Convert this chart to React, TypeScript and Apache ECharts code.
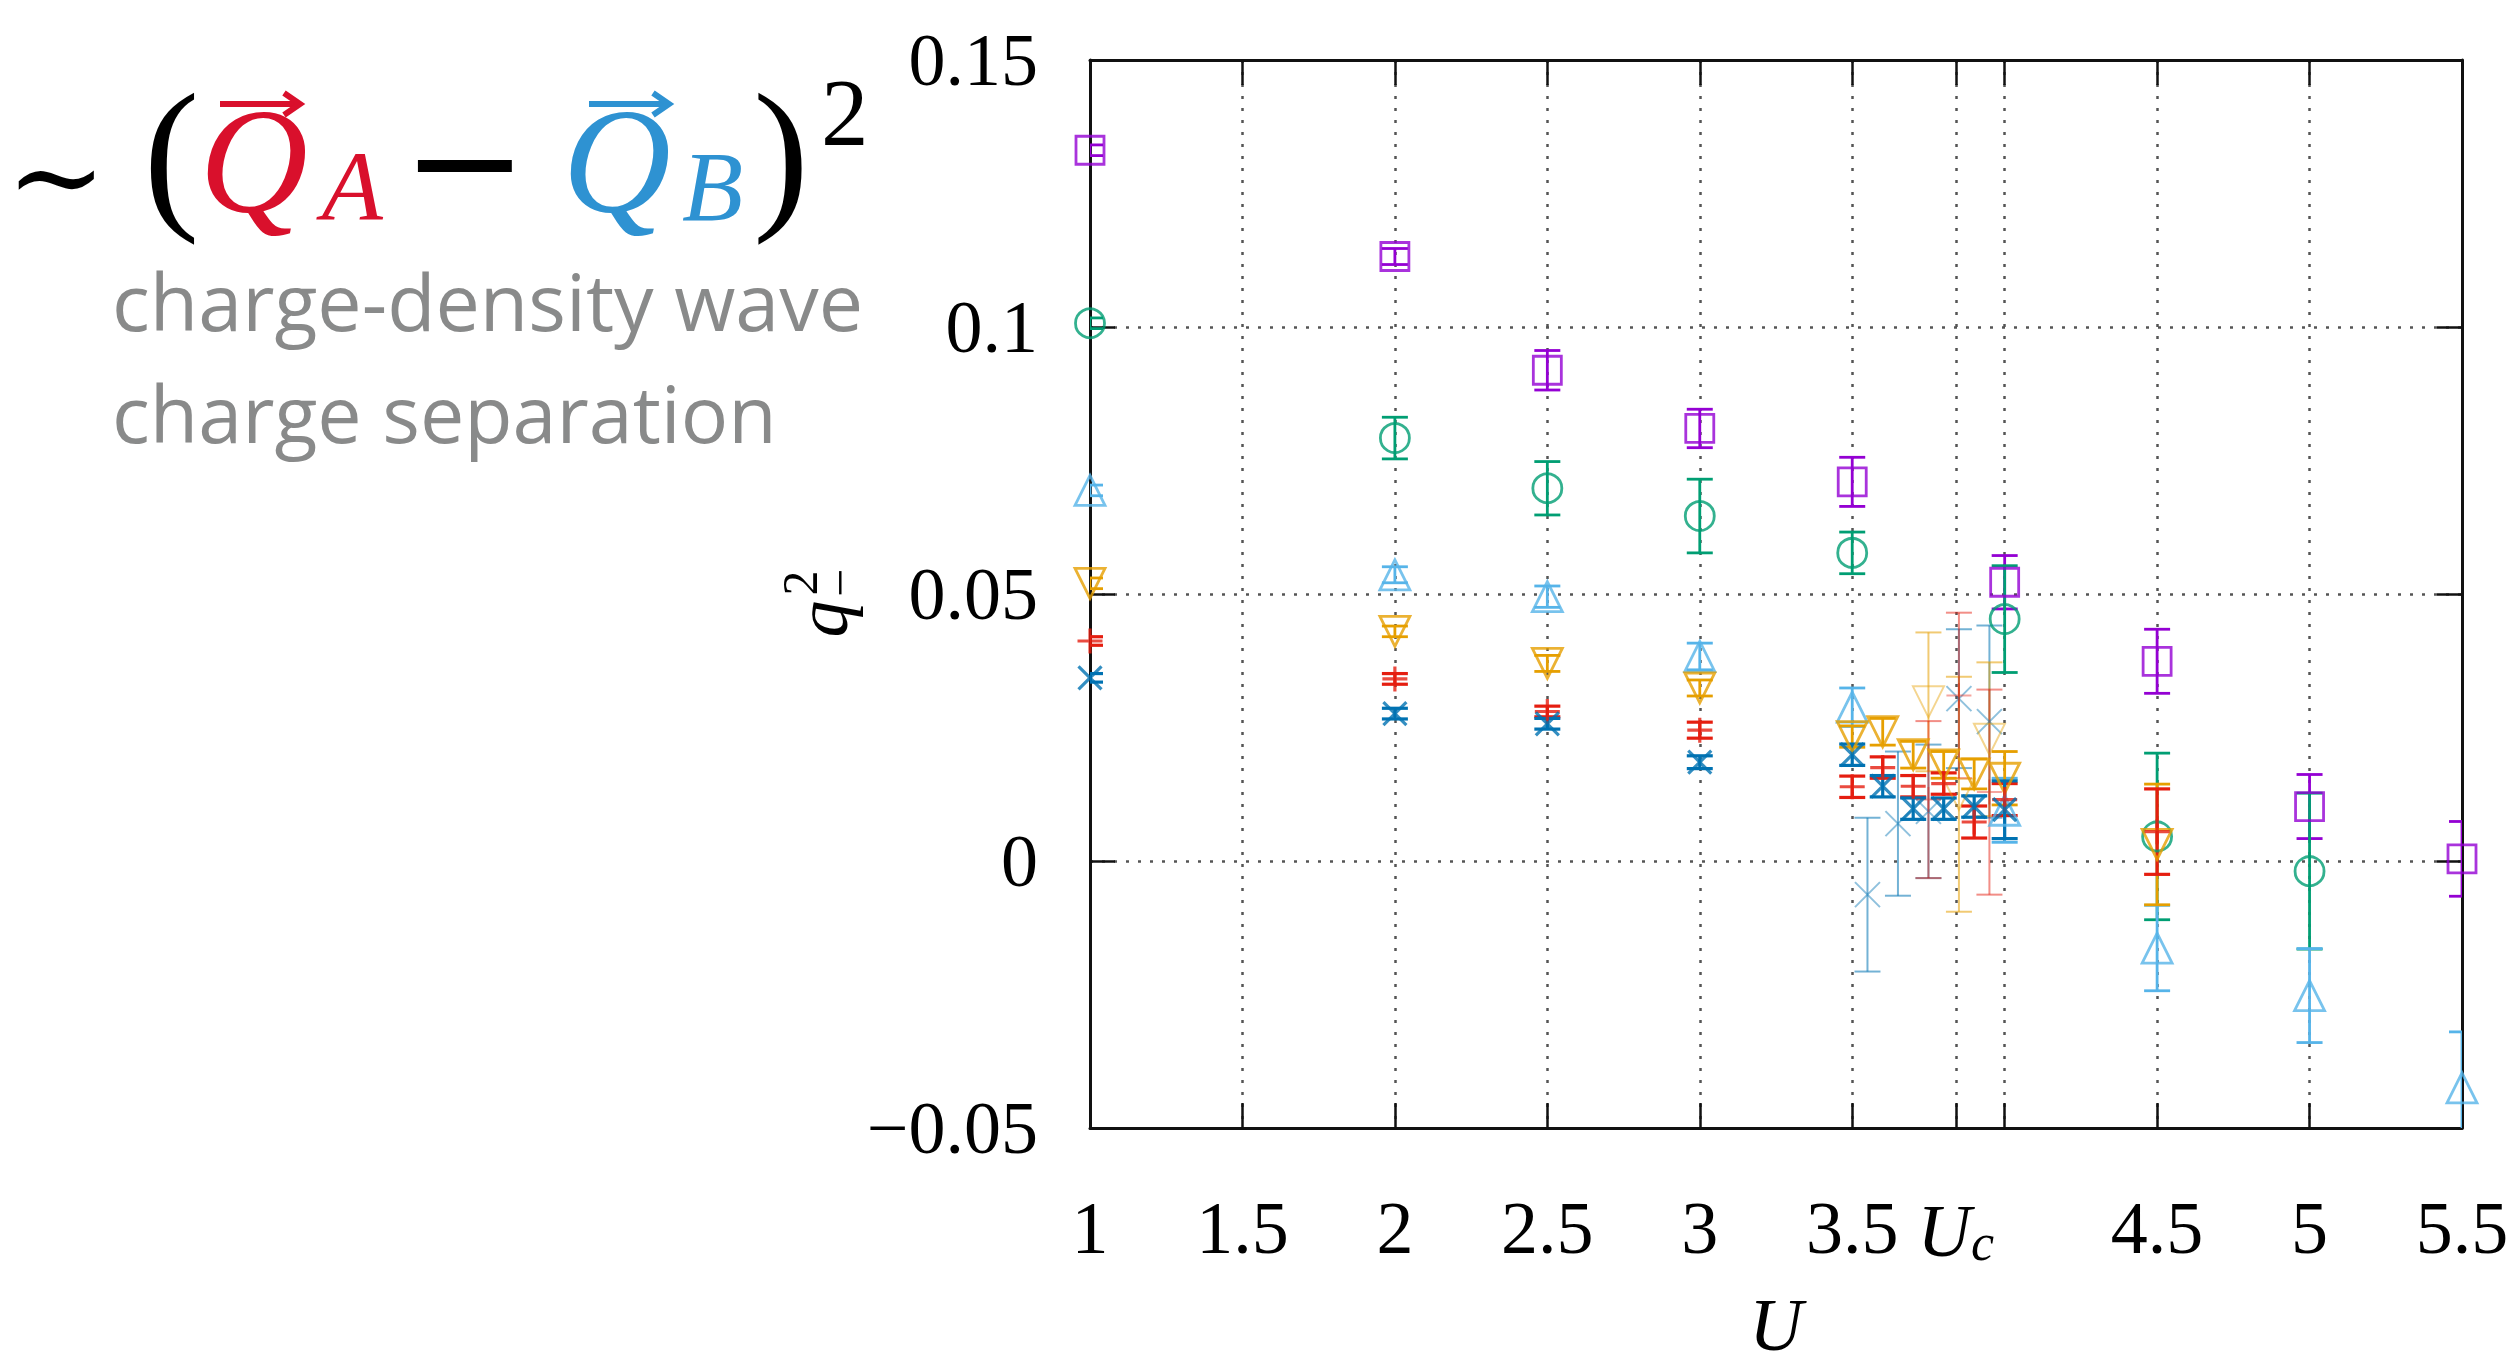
import React, { useEffect, useRef } from 'react';
import * as echarts from 'echarts';

// ---------- axis ticks / labels ----------
const U_C = 3.84;
const X_TICKS = [1, 1.5, 2, 2.5, 3, 3.5, U_C, 4, 4.5, 5, 5.5];
const X_LABEL_VALUES = [1, 1.5, 2, 2.5, 3, 3.5, U_C, 4.5, 5, 5.5];
const X_LABELS = ['1', '1.5', '2', '2.5', '3', '3.5', '{u|U}{c|c}', '4.5', '5', '5.5'];
const Y_LABEL_VALUES = [-0.05, 0, 0.05, 0.1, 0.15];
const Y_LABELS = ['\u22120.05', '0', '0.05', '0.1', '0.15'];

// ---------- data (U, q^2_-, error) ----------
const purpleU = [1, 2, 2.5, 3, 3.5, 4, 4.5, 5, 5.5];
const purpleQ = [0.1331, 0.1132, 0.0919, 0.081, 0.071, 0.0522, 0.0374, 0.0102, 0.0004];
const purpleE = [0.001, 0.0015, 0.0037, 0.0036, 0.0046, 0.005, 0.006, 0.006, 0.007];

const greenU = [1, 2, 2.5, 3, 3.5, 4, 4.5, 5];
const greenQ = [0.1007, 0.0792, 0.0698, 0.0646, 0.0577, 0.0453, 0.0046, -0.0019];
const greenE = [0.001, 0.0039, 0.005, 0.0069, 0.0039, 0.01, 0.0156, 0.0146];

const skyU = [1, 2, 2.5, 3, 3.5, 4, 4.5, 5, 5.5];
const skyQ = [0.0694, 0.0536, 0.0495, 0.0383, 0.0288, 0.0095, -0.0163, -0.0252, -0.0425];
const skyE = [0.001, 0.0015, 0.002, 0.0025, 0.0036, 0.006, 0.008, 0.0088, 0.0105];

const orangeU = [1, 2, 2.5, 3, 3.5, 3.6, 3.7, 3.8, 3.9, 4, 4.5];
const orangeQ = [0.052, 0.043, 0.037, 0.0324, 0.0233, 0.0242, 0.0199, 0.018, 0.0163, 0.0155, 0.0031];
const orangeE = [0.001, 0.001, 0.0015, 0.0015, 0.002, 0.0025, 0.0025, 0.0025, 0.0028, 0.005, 0.0113];

const redU = [1, 2, 2.5, 3, 3.5, 3.6, 3.7, 3.8, 3.9, 4, 4.5];
const redQ = [0.0412, 0.0341, 0.028, 0.0245, 0.0139, 0.0175, 0.014, 0.0145, 0.0073, 0.0115, 0.0055];
const redE = [0.0008, 0.001, 0.001, 0.0015, 0.002, 0.002, 0.002, 0.002, 0.003, 0.003, 0.008];

const blueU = [1, 2, 2.5, 3, 3.5, 3.6, 3.7, 3.8, 3.9, 4];
const blueQ = [0.0343, 0.0276, 0.0257, 0.0185, 0.0199, 0.014, 0.0098, 0.0098, 0.0102, 0.0096];
const blueE = [0.0008, 0.001, 0.001, 0.0012, 0.002, 0.002, 0.002, 0.002, 0.002, 0.0054];

// faded (second data set near the transition)
const fBlueU = [3.55, 3.65, 3.75, 3.85, 3.95];
const fBlueQ = [-0.0063, 0.007, 0.0093, 0.0304, 0.0261];
const fBlueE = [0.0144, 0.0135, 0.0125, 0.013, 0.018];

const fOrangeU = [3.75, 3.85, 3.95];
const fOrangeQ = [0.0298, 0.0125, 0.0228];
const fOrangeE = [0.013, 0.022, 0.0144];

const fRedU = [3.75, 3.85, 3.95];
const fRedQ = [0.0115, 0.031, 0.0129];
const fRedE = [0.0147, 0.0155, 0.0192];

const PLUS = 'path://M0,10L20,10M10,0L10,20';
const CROSS = 'path://M0,0L20,20M20,0L0,20';

type S = { u: number[]; q: number[]; e: number[]; color: string; symbol: string; size: number; rotate?: number; width: number };

const SETS: S[] = [
  { u: fBlueU, q: fBlueQ, e: fBlueE, color: 'rgba(0,114,178,0.55)', symbol: CROSS, size: 25, width: 2 },
  { u: fOrangeU, q: fOrangeQ, e: fOrangeE, color: 'rgba(230,159,0,0.55)', symbol: 'triangle', size: 31, rotate: 180, width: 2 },
  { u: fRedU, q: fRedQ, e: fRedE, color: 'rgba(229,30,16,0.5)', symbol: PLUS, size: 25, width: 2 },
  { u: purpleU, q: purpleQ, e: purpleE, color: '#9400d3', symbol: 'rect', size: 28, width: 2.8 },
  { u: greenU, q: greenQ, e: greenE, color: '#009e73', symbol: 'circle', size: 29, width: 2.8 },
  { u: skyU, q: skyQ, e: skyE, color: '#56b4e9', symbol: 'triangle', size: 30, width: 2.8 },
  { u: orangeU, q: orangeQ, e: orangeE, color: '#e69f00', symbol: 'triangle', size: 30, rotate: 180, width: 2.8 },
  { u: redU, q: redQ, e: redE, color: '#e51e10', symbol: PLUS, size: 25, width: 3.2 },
  { u: blueU, q: blueQ, e: blueE, color: '#0072b2', symbol: CROSS, size: 23, width: 3.2 },
];

const SERIF = 'Liberation Serif';
const CAP = 26;

function pick(values: number[], labels: string[], v: number) {
  const i = values.findIndex((t) => Math.abs(t - v) < 1e-6);
  return i >= 0 ? labels[i] : '';
}

function buildSeries() {
  const out: any[] = [];
  SETS.forEach((s) => {
    const data = s.u.map((u, i) => [u, s.q[i], s.e[i]]);
    out.push({
      type: 'custom',
      xAxisIndex: 0,
      yAxisIndex: 0,
      clip: true,
      encode: { x: 0, y: 1 },
      data,
      silent: true,
      renderItem: (params: any, api: any) => {
        const x = api.value(0);
        const y = api.value(1);
        const e = api.value(2);
        const top = api.coord([x, y + e]);
        const bot = api.coord([x, y - e]);
        const st = { stroke: s.color, lineWidth: s.width };
        const h = CAP / 2;
        return {
          type: 'group',
          children: [
            { type: 'line', shape: { x1: top[0], y1: top[1], x2: bot[0], y2: bot[1] }, style: st },
            { type: 'line', shape: { x1: top[0] - h, y1: top[1], x2: top[0] + h, y2: top[1] }, style: st },
            { type: 'line', shape: { x1: bot[0] - h, y1: bot[1], x2: bot[0] + h, y2: bot[1] }, style: st },
          ],
        };
      },
    });
    out.push({
      type: 'scatter',
      xAxisIndex: 0,
      yAxisIndex: 0,
      clip: false,
      data: data.map((d) => [d[0], d[1]]),
      symbol: s.symbol,
      symbolSize: s.size,
      symbolRotate: s.rotate || 0,
      itemStyle: { color: 'rgba(0,0,0,0)', borderColor: s.color, borderWidth: s.width },
      silent: true,
    });
  });
  return out;
}

const RED = '#d9102c';
const BLUE = '#2e92d2';
const GRAY = '#898a8a';

function arrow(x1: number, x2: number, y: number, color: string) {
  return [
    { type: 'line', shape: { x1, y1: y, x2: x2 - 4, y2: y }, style: { stroke: color, lineWidth: 6 } },
    { type: 'polyline', shape: { points: [[x2 - 16, y - 11], [x2, y], [x2 - 16, y + 11]] }, style: { stroke: color, lineWidth: 6, fill: 'none' } },
  ];
}

const tok = (size: number, lh: number, fill: string, family: string, italic: boolean, padL: number, padB = 0) => ({
  fontSize: size,
  lineHeight: lh,
  fontFamily: family,
  fontStyle: italic ? 'italic' : 'normal',
  fill,
  color: fill,
  verticalAlign: 'bottom',
  padding: [0, 0, padB, padL],
});

const formula = {
  type: 'text',
  x: 6,
  y: 236,
  style: {
    text: '{t|\u223C}{p|(}{qa|Q}{sa|A}{m|\u2212}{qb|Q}{sb|B}{p2|)}{sup|2}',
    align: 'left',
    textAlign: 'left',
    verticalAlign: 'bottom',
    textVerticalAlign: 'bottom',
    rich: {
      t: tok(120, 120, '#000', 'DejaVu Serif', false, 0),
      p: tok(168, 120, '#000', SERIF, false, 37),
      qa: tok(150, 120, RED, SERIF, true, 0),
      sa: tok(100, 64, RED, SERIF, true, 14),
      m: tok(150, 120, '#000', 'DejaVu Serif', false, 19),
      qb: tok(150, 120, BLUE, SERIF, true, 35),
      sb: tok(100, 64, BLUE, SERIF, true, 11),
      p2: tok(168, 120, '#000', SERIF, false, 10),
      sup: tok(95, 120, '#000', SERIF, false, 12, 76),
    },
  },
};

function gtext(x: number, y: number, text: string, size: number, color: string, family: string, italic = false, align = 'center', lh?: number) {
  return {
    type: 'text',
    x,
    y,
    style: {
      text,
      fontSize: size,
      fontFamily: family,
      fontStyle: italic ? 'italic' : 'normal',
      fill: color,
      align,
      textAlign: align,
      verticalAlign: 'middle',
      textVerticalAlign: 'middle',
      lineHeight: lh || size,
    },
  };
}

const graphic: any[] = [
  formula,
  ...arrow(220, 300, 104, RED),
  ...arrow(589, 669, 104, BLUE),
  gtext(112, 300, 'charge-density wave', 79, GRAY, 'Open Sans', false, 'left', 80),
  gtext(112, 412, 'charge separation', 79, GRAY, 'Open Sans', false, 'left', 80),
  {
    type: 'group',
    x: 818,
    y: 605,
    rotation: Math.PI / 2,
    children: [
      gtext(-14, 4, 'q', 74, '#000', SERIF, true),
      gtext(22, 2, '2\n\u2212', 50, '#000', SERIF, false, 'center', 40),
    ],
  },
];

const axisLineStyle = { color: '#111', width: 3 };
const tickStyle = { color: '#111', width: 2.5 };
const gridStyle = { type: [3, 9], color: '#555', width: 2.5 };

const option: any = {
  animation: false,
  backgroundColor: '#fff',
  textStyle: { fontFamily: SERIF, color: '#000' },
  grid: { left: 1090, right: 52, top: 60, bottom: 231, containLabel: false },
  xAxis: [
    {
      type: 'value',
      position: 'bottom',
      min: 1,
      max: 5.5,
      name: 'U',
      nameLocation: 'middle',
      nameGap: 160,
      nameTextStyle: { fontFamily: SERIF, fontStyle: 'italic', fontSize: 74, color: '#000' },
      axisLine: { show: true, onZero: false, lineStyle: axisLineStyle },
      axisTick: { show: true, inside: true, length: 25, customValues: X_TICKS, lineStyle: tickStyle },
      axisLabel: {
        show: true,
        customValues: X_LABEL_VALUES,
        formatter: (v: number) => pick(X_LABEL_VALUES, X_LABELS, v),
        fontSize: 74,
        fontFamily: SERIF,
        color: '#000',
        margin: 60,
        lineHeight: 80,
        rich: {
          u: { fontStyle: 'italic', fontSize: 74, fontFamily: SERIF, lineHeight: 80, verticalAlign: 'bottom', color: '#000' },
          c: { fontStyle: 'italic', fontSize: 52, fontFamily: SERIF, lineHeight: 44, verticalAlign: 'bottom', color: '#000' },
        },
      },
      splitLine: { show: true, lineStyle: gridStyle },
    },
    {
      type: 'value',
      position: 'top',
      min: 1,
      max: 5.5,
      axisLine: { show: true, onZero: false, lineStyle: axisLineStyle },
      axisTick: { show: true, inside: true, length: 25, customValues: X_TICKS, lineStyle: tickStyle },
      axisLabel: { show: false },
      splitLine: { show: false },
    },
  ],
  yAxis: [
    {
      type: 'value',
      position: 'left',
      min: -0.05,
      max: 0.15,
      interval: 0.05,
      axisLine: { show: true, onZero: false, lineStyle: axisLineStyle },
      axisTick: { show: true, inside: true, length: 25, lineStyle: tickStyle },
      axisLabel: {
        show: true,
        formatter: (v: number) => pick(Y_LABEL_VALUES, Y_LABELS, v),
        fontSize: 74,
        fontFamily: SERIF,
        color: '#000',
        margin: 52,
      },
      splitLine: { show: true, lineStyle: gridStyle },
    },
    {
      type: 'value',
      position: 'right',
      min: -0.05,
      max: 0.15,
      interval: 0.05,
      axisLine: { show: true, onZero: false, lineStyle: axisLineStyle },
      axisTick: { show: true, inside: true, length: 25, lineStyle: tickStyle },
      axisLabel: { show: false },
      splitLine: { show: false },
    },
  ],
  graphic,
  series: buildSeries(),
};

export default function App() {
  const ref = useRef<HTMLDivElement>(null);
  useEffect(() => {
    if (!ref.current) return;
    const chart = echarts.init(ref.current, null, { renderer: 'svg' });
    chart.setOption(option);
    return () => chart.dispose();
  }, []);
  return (
    <div
      ref={ref}
      style={{ position: 'absolute', left: 0, top: 0, width: 2514, height: 1367, background: '#fff' }}
    />
  );
}
